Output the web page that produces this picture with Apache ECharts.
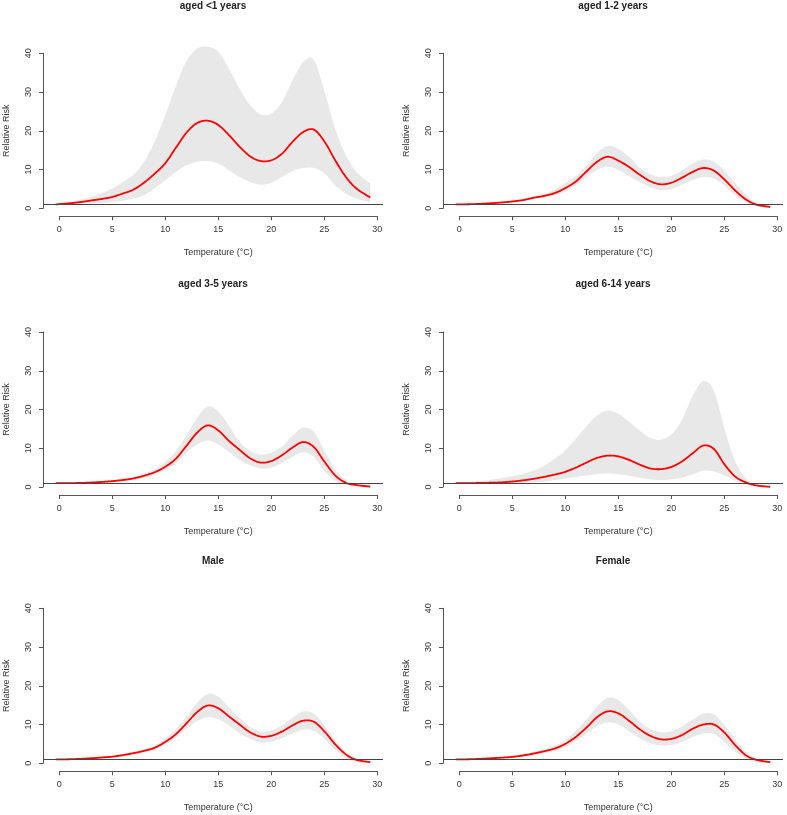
<!DOCTYPE html>
<html>
<head>
<meta charset="utf-8">
<script src="https://cdn.jsdelivr.net/npm/echarts@6/dist/echarts.min.js"></script>
<style>
html,body{margin:0;padding:0;background:#fff;}
#chart{width:787px;height:815px;}
</style>
</head>
<body>
<div id="chart"></div>
<script>
// Temperature grid (°C)
const temps = [-0.3, 1, 2, 3, 4, 5, 6, 7, 8, 9, 10, 11, 12, 13, 14, 15, 16, 17, 18, 19, 20, 21, 22, 23, 24, 25, 26, 27, 28, 29.3];

const panelTitles = ['aged <1 years', 'aged 1-2 years', 'aged 3-5 years', 'aged 6-14 years', 'Male', 'Female'];
const xTicks = [0, 5, 10, 15, 20, 25, 30];
const yTicks = [0, 10, 20, 30, 40];

// aged <1 years
const fitLt1   = [1.0, 1.3, 1.6, 2.0, 2.4, 2.9, 3.8, 4.8, 6.6, 8.9, 11.6, 15.6, 19.5, 22.0, 22.6, 21.5, 18.9, 15.9, 13.4, 12.2, 12.4, 14.1, 17.2, 19.7, 20.3, 17.2, 12.4, 8.1, 5.1, 2.8];
const upperLt1 = [1.1, 1.6, 2.2, 2.9, 3.9, 5.1, 6.8, 8.6, 12.0, 17.2, 24.0, 31.5, 38.0, 41.2, 41.7, 40.4, 36.1, 30.9, 26.6, 24.2, 24.5, 27.5, 33.1, 37.8, 38.3, 30.1, 20.6, 13.7, 9.4, 6.4];
const lowerLt1 = [0.95, 1.05, 1.2, 1.3, 1.4, 1.6, 2.0, 2.5, 3.4, 5.1, 7.2, 9.4, 11.1, 12.0, 12.2, 11.6, 9.8, 8.1, 6.8, 6.1, 6.6, 8.1, 9.6, 10.4, 10.4, 9.0, 5.9, 3.8, 2.5, 1.5];

// aged 1-2 years
const fit1to2   = [1.0, 1.05, 1.15, 1.3, 1.5, 1.75, 2.1, 2.7, 3.2, 3.9, 5.2, 6.9, 9.5, 12.0, 13.3, 12.3, 10.7, 8.7, 7.0, 6.2, 6.6, 7.9, 9.4, 10.4, 9.7, 7.4, 4.6, 2.3, 0.95, 0.35];
const upper1to2 = [1.0, 1.1, 1.25, 1.45, 1.7, 2.0, 2.5, 3.1, 3.8, 4.8, 6.5, 8.3, 11.0, 14.3, 16.1, 15.3, 13.3, 10.5, 8.8, 8.1, 8.4, 9.8, 11.6, 12.6, 12.0, 9.7, 6.5, 3.6, 1.5, 0.6];
const lower1to2 = [0.95, 1.0, 1.05, 1.15, 1.3, 1.5, 1.8, 2.3, 2.8, 3.3, 4.3, 5.9, 8.0, 9.9, 10.7, 9.9, 8.4, 6.8, 5.4, 4.7, 5.0, 6.1, 7.3, 8.1, 7.7, 5.8, 3.4, 1.6, 0.5, 0.15];

// aged 3-5 years
const fit3to5   = [1.0, 1.0, 1.05, 1.15, 1.3, 1.5, 1.8, 2.2, 2.9, 3.8, 5.2, 7.3, 10.6, 14.0, 15.9, 14.6, 11.9, 9.6, 7.4, 6.3, 6.7, 8.2, 10.2, 11.6, 10.3, 6.5, 3.0, 1.1, 0.5, 0.1];
const upper3to5 = [1.0, 1.05, 1.15, 1.3, 1.5, 1.8, 2.2, 2.7, 3.5, 4.5, 6.5, 9.2, 13.3, 17.8, 20.8, 19.5, 15.8, 11.7, 9.3, 8.4, 8.9, 10.5, 13.3, 15.3, 14.2, 9.3, 4.6, 1.8, 0.8, 0.3];
const lower3to5 = [0.95, 0.95, 1.0, 1.05, 1.15, 1.3, 1.5, 1.8, 2.4, 3.2, 4.4, 6.2, 8.8, 11.0, 12.0, 11.0, 9.0, 7.0, 5.6, 4.8, 5.0, 6.2, 7.8, 9.0, 7.7, 4.2, 1.6, 0.6, 0.3, 0.05];

// aged 6-14 years
const fit6to14   = [1.0, 1.0, 1.05, 1.1, 1.2, 1.4, 1.7, 2.1, 2.6, 3.2, 3.9, 5.0, 6.3, 7.5, 8.1, 7.9, 7.0, 5.8, 4.8, 4.6, 5.2, 6.6, 8.7, 10.7, 9.8, 5.8, 2.7, 1.2, 0.4, 0.05];
const upper6to14 = [1.1, 1.3, 1.6, 1.9, 2.3, 2.8, 3.4, 4.2, 5.4, 7.3, 9.4, 12.4, 15.7, 18.5, 19.7, 18.9, 16.9, 14.6, 12.7, 12.2, 13.6, 17.4, 23.5, 27.3, 24.8, 15.0, 6.6, 2.3, 0.7, 0.1];
const lower6to14 = [0.95, 0.9, 0.85, 0.85, 0.85, 0.9, 1.0, 1.2, 1.4, 1.8, 2.2, 2.6, 3.0, 3.3, 3.5, 3.3, 2.9, 2.4, 2.0, 1.8, 2.0, 2.4, 3.3, 4.2, 4.0, 3.0, 1.6, 0.6, 0.2, 0.0];

// Male
const fitMale   = [1.0, 1.05, 1.15, 1.3, 1.5, 1.7, 2.1, 2.6, 3.2, 4.0, 5.5, 7.5, 10.3, 13.2, 14.9, 14.2, 12.1, 10.0, 8.0, 6.9, 7.1, 8.2, 9.8, 11.0, 10.7, 8.2, 4.9, 2.3, 0.9, 0.3];
const upperMale = [1.05, 1.1, 1.25, 1.45, 1.7, 2.0, 2.5, 3.0, 3.7, 4.6, 6.4, 8.8, 12.0, 15.6, 17.9, 17.2, 14.4, 11.7, 9.4, 8.2, 8.5, 9.8, 11.8, 13.4, 12.8, 9.7, 5.9, 3.0, 1.3, 0.5];
const lowerMale = [0.95, 1.0, 1.05, 1.15, 1.3, 1.45, 1.75, 2.2, 2.75, 3.5, 4.8, 6.6, 8.8, 10.9, 11.9, 11.4, 9.8, 7.8, 6.3, 5.4, 5.6, 6.5, 7.7, 8.7, 8.4, 6.2, 3.5, 1.3, 0.3, 0.1];

// Female
const fitFemale   = [1.0, 1.05, 1.15, 1.3, 1.45, 1.65, 2.0, 2.5, 3.1, 3.8, 5.0, 6.8, 9.2, 11.9, 13.4, 12.9, 11.0, 8.8, 7.1, 6.2, 6.3, 7.3, 8.9, 10.0, 10.0, 7.9, 4.7, 2.1, 0.9, 0.3];
const upperFemale = [1.05, 1.1, 1.25, 1.4, 1.65, 1.95, 2.4, 2.9, 3.6, 4.5, 6.0, 8.4, 11.3, 14.6, 16.9, 16.3, 13.8, 10.8, 8.9, 8.0, 8.3, 9.5, 11.3, 12.8, 12.6, 9.8, 6.2, 2.9, 1.2, 0.5];
const lowerFemale = [0.95, 1.0, 1.05, 1.15, 1.3, 1.4, 1.7, 2.1, 2.6, 3.2, 4.2, 5.7, 7.6, 9.6, 10.6, 10.0, 8.3, 6.5, 5.2, 4.6, 4.7, 5.5, 6.8, 7.7, 7.6, 5.4, 3.0, 1.2, 0.3, 0.1];

const refLine = 1; // reference relative risk

const panels = [
  {fit: fitLt1, upper: upperLt1, lower: lowerLt1},
  {fit: fit1to2, upper: upper1to2, lower: lower1to2},
  {fit: fit3to5, upper: upper3to5, lower: lower3to5},
  {fit: fit6to14, upper: upper6to14, lower: lower6to14},
  {fit: fitMale, upper: upperMale, lower: lowerMale},
  {fit: fitFemale, upper: upperFemale, lower: lowerFemale}
];

// ----- layout -----
const FONT = '"Liberation Sans", Arial, sans-serif';
const TXT = '#333';
const LINE = '#555';
const BAND = '#e8e8e8';
const colLeft = [43, 443];      // plot region left edge
const plotW = 340;              // plot region width (x -1.5..30.5)
const rowY40 = [53.3, 332, 608.3]; // pixel of RR=40
const pxPerUnitY = 155 / 40;

// Catmull-Rom spline through pixel points (points come from api.coord)
function spline(pts, seg) {
  const out = [];
  const n = pts.length;
  for (let i = 0; i < n - 1; i++) {
    const p0 = pts[Math.max(i - 1, 0)], p1 = pts[i], p2 = pts[i + 1], p3 = pts[Math.min(i + 2, n - 1)];
    for (let s = 0; s < seg; s++) {
      const t = s / seg, t2 = t * t, t3 = t2 * t;
      const f = (a, b, c, d) => 0.5 * ((2 * b) + (-a + c) * t + (2 * a - 5 * b + 4 * c - d) * t2 + (-a + 3 * b - 3 * c + d) * t3);
      out.push([f(p0[0], p1[0], p2[0], p3[0]), f(p0[1], p1[1], p2[1], p3[1])]);
    }
  }
  out.push(pts[n - 1]);
  return out;
}

const grids = [], xAxes = [], yAxes = [], series = [], titles = [];

panels.forEach((p, i) => {
  const col = i % 2, row = Math.floor(i / 2);
  const left = colLeft[col];
  const y40 = rowY40[row];
  const y0 = y40 + 155;
  const g = grids.length;

  // data grid
  grids.push({left: left, top: y40 - 1.6 * pxPerUnitY, width: plotW, height: 43.2 * pxPerUnitY});
  xAxes.push({gridIndex: g, type: 'value', min: -1.5, max: 30.5, show: false});
  yAxes.push({gridIndex: g, type: 'value', min: -1.6, max: 41.6, show: false});

  // x-axis display grid (0..30)
  const lineY = y0 + 8;
  grids.push({left: left + 16.3, top: lineY - 10, width: 318, height: 10});
  xAxes.push({
    gridIndex: g + 1, type: 'value', min: xTicks[0], max: xTicks[xTicks.length - 1], interval: 5,
    position: 'bottom',
    axisLine: {show: true, lineStyle: {color: LINE, width: 1}},
    axisTick: {show: true, length: 4, lineStyle: {color: LINE}},
    axisLabel: {show: true, fontSize: 9, color: TXT, fontFamily: FONT, margin: 9},
    splitLine: {show: false},
    name: 'Temperature (°C)', nameLocation: 'middle', nameGap: 32,
    nameTextStyle: {fontSize: 9, color: TXT, fontFamily: FONT}
  });
  yAxes.push({gridIndex: g + 1, type: 'value', min: 0, max: 1, show: false});

  // y-axis display grid (0..40)
  grids.push({left: left, top: y40, width: 10, height: 155});
  xAxes.push({gridIndex: g + 2, type: 'value', min: 0, max: 1, show: false});
  yAxes.push({
    gridIndex: g + 2, type: 'value', min: yTicks[0], max: yTicks[yTicks.length - 1], interval: 10,
    position: 'left',
    axisLine: {show: true, lineStyle: {color: LINE, width: 1}},
    axisTick: {show: true, length: 4, lineStyle: {color: LINE}},
    axisLabel: {show: true, fontSize: 9, color: TXT, fontFamily: FONT, rotate: 90, margin: 10},
    splitLine: {show: false},
    name: 'Relative Risk', nameLocation: 'middle', nameGap: 32, nameRotate: 90,
    nameTextStyle: {fontSize: 9, color: TXT, fontFamily: FONT}
  });

  titles.push({
    text: panelTitles[i], left: left + plotW / 2, top: y40 - 47.3 - 5, textAlign: 'center', padding: 0,
    textStyle: {fontSize: 10, fontWeight: 'bold', color: '#222', fontFamily: FONT}
  });

  const n = temps.length;
  // confidence band: polygon between smooth upper and lower curves
  series.push({
    type: 'custom', xAxisIndex: g, yAxisIndex: g, silent: true, z: 1,
    data: temps.map((t, k) => [t, p.lower[k], p.upper[k]]),
    encode: {x: 0, y: [1, 2]},
    renderItem: function (params, api) {
      if (params.dataIndex !== 0) return null;
      const up = [], lo = [];
      for (let j = 0; j < n; j++) {
        up.push(api.coord([api.value(0, j), api.value(2, j)]));
        lo.push(api.coord([api.value(0, j), api.value(1, j)]));
      }
      const pts = spline(up, 16).concat(spline(lo, 16).reverse());
      return {type: 'polygon', shape: {points: pts}, style: {fill: BAND, stroke: null}, silent: true};
    }
  });
  // reference line RR = 1 (invisible carrier series)
  series.push({
    type: 'line', xAxisIndex: g, yAxisIndex: g, symbol: 'none', silent: true, z: 2,
    data: temps.map((t, k) => [t, p.fit[k]]),
    lineStyle: {opacity: 0, width: 0},
    markLine: {
      silent: true, symbol: 'none', animation: false,
      label: {show: false},
      lineStyle: {color: '#444', width: 1, type: 'solid'},
      data: [{yAxis: refLine}]
    }
  });
  // fitted relative risk curve
  series.push({
    type: 'custom', xAxisIndex: g, yAxisIndex: g, silent: true, z: 3,
    data: temps.map((t, k) => [t, p.fit[k]]),
    encode: {x: 0, y: 1},
    renderItem: function (params, api) {
      if (params.dataIndex !== 0) return null;
      const pts = [];
      for (let j = 0; j < n; j++) pts.push(api.coord([api.value(0, j), api.value(1, j)]));
      return {type: 'polyline', shape: {points: spline(pts, 16)},
        style: {stroke: '#ff0000', lineWidth: 1.8, fill: null}, silent: true};
    }
  });
});

const chart = echarts.init(document.getElementById('chart'), null, {renderer: 'canvas'});
chart.setOption({
  backgroundColor: '#fff',
  animation: false,
  title: titles,
  grid: grids,
  xAxis: xAxes,
  yAxis: yAxes,
  series: series
});
</script>
</body>
</html>
